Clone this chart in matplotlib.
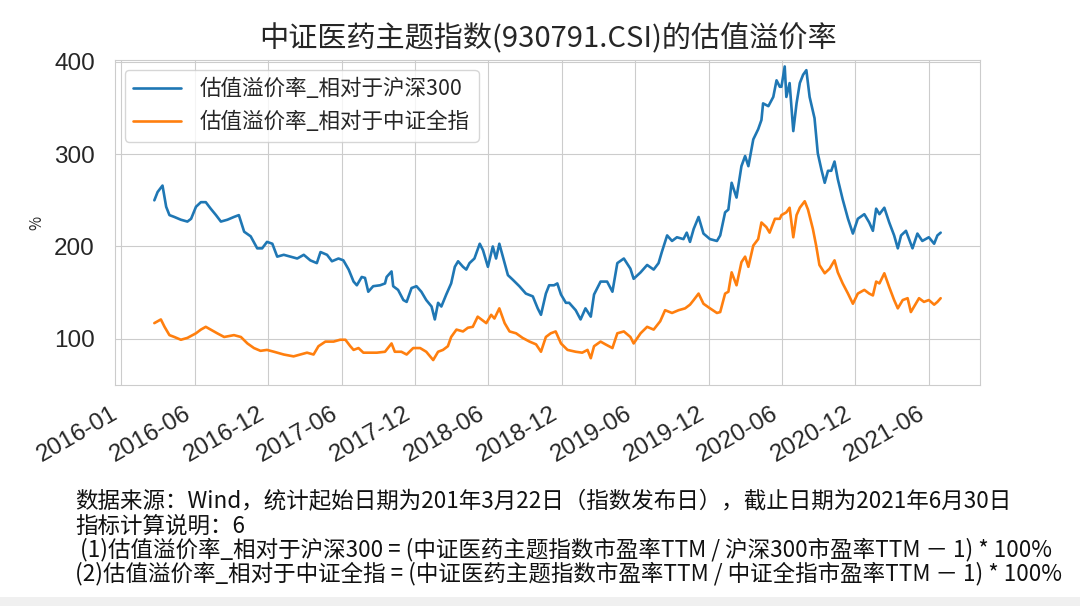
import matplotlib
matplotlib.use("Agg")
import matplotlib.pyplot as plt
import seaborn as sns
import pandas as pd
from matplotlib.patches import Rectangle

# 估值溢价率_相对于沪深300 (%)
hs300_dates = [
    "2016-03-22", "2016-03-30", "2016-04-11", "2016-04-20", "2016-04-28", "2016-05-10", "2016-05-26",
    "2016-06-11", "2016-06-20", "2016-07-02", "2016-07-14", "2016-07-26", "2016-08-07", "2016-08-20",
    "2016-09-01", "2016-09-17", "2016-10-03", "2016-10-15", "2016-10-28", "2016-11-13", "2016-11-29",
    "2016-12-11", "2016-12-23", "2017-01-05", "2017-01-17", "2017-02-02", "2017-02-18", "2017-03-07",
    "2017-03-23", "2017-04-08", "2017-04-24", "2017-05-03", "2017-05-19", "2017-05-31", "2017-06-16",
    "2017-06-28", "2017-07-11", "2017-07-23", "2017-07-31", "2017-08-12", "2017-08-20", "2017-08-28",
    "2017-09-09", "2017-09-26", "2017-10-08", "2017-10-12", "2017-10-24", "2017-10-28", "2017-11-09",
    "2017-11-22", "2017-11-30", "2017-12-12", "2017-12-24", "2018-01-05", "2018-01-17", "2018-01-30",
    "2018-02-07", "2018-02-15", "2018-02-23", "2018-03-07", "2018-03-19", "2018-03-28", "2018-04-05",
    "2018-04-17", "2018-04-25", "2018-05-03", "2018-05-15", "2018-05-28", "2018-06-05", "2018-06-17",
    "2018-06-29", "2018-07-07", "2018-07-15", "2018-07-28", "2018-08-05", "2018-08-17", "2018-09-02",
    "2018-09-18", "2018-10-05", "2018-10-17", "2018-10-25", "2018-11-06", "2018-11-14", "2018-11-26",
    "2018-12-04", "2018-12-13", "2018-12-25", "2019-01-02", "2019-01-18", "2019-01-30", "2019-02-11",
    "2019-02-24", "2019-03-04", "2019-03-20", "2019-04-05", "2019-04-18", "2019-04-30", "2019-05-16",
    "2019-06-01", "2019-06-09", "2019-06-26", "2019-07-12", "2019-07-28", "2019-08-09", "2019-08-17",
    "2019-08-30", "2019-09-11", "2019-09-23", "2019-10-09", "2019-10-17", "2019-10-25", "2019-11-03",
    "2019-11-15", "2019-11-27", "2019-12-13", "2019-12-30", "2020-01-07", "2020-01-19", "2020-01-27",
    "2020-02-04", "2020-02-16", "2020-02-28", "2020-03-08", "2020-03-16", "2020-03-28", "2020-04-09",
    "2020-04-17", "2020-04-21", "2020-05-04", "2020-05-16", "2020-05-24", "2020-06-01", "2020-06-05",
    "2020-06-13", "2020-06-17", "2020-06-25", "2020-07-04", "2020-07-12", "2020-07-20", "2020-07-28",
    "2020-08-05", "2020-08-13", "2020-08-25", "2020-09-02", "2020-09-11", "2020-09-19", "2020-09-27",
    "2020-10-05", "2020-10-13", "2020-10-21", "2020-11-02", "2020-11-15", "2020-11-27", "2020-12-09",
    "2020-12-25", "2021-01-06", "2021-01-15", "2021-01-23", "2021-01-31", "2021-02-12", "2021-02-24",
    "2021-03-08", "2021-03-17", "2021-03-25", "2021-04-06", "2021-04-22", "2021-05-04", "2021-05-16",
    "2021-06-01", "2021-06-14", "2021-06-22", "2021-06-30",
]
hs300_premium = [
    250, 259, 266, 243, 234, 232, 229,
    227, 230, 243, 248, 248, 241, 234,
    227, 229, 232, 234, 216, 211, 198,
    198, 205, 203, 189, 191, 189, 187,
    191, 185, 182, 194, 191, 184, 187,
    185, 175, 162, 158, 167, 166, 151,
    157, 158, 160, 167, 173, 157, 153,
    142, 140, 155, 157, 151, 142, 135,
    121, 139, 135, 148, 160, 178, 184,
    178, 175, 182, 187, 203, 196, 178,
    200, 187, 203, 182, 169, 164, 157,
    149, 146, 133, 126, 149, 158, 158,
    160, 148, 139, 139, 131, 121, 133,
    124, 148, 162, 162, 151, 182, 187,
    176, 165, 172, 180, 175, 182, 194,
    212, 206, 210, 208, 215, 205, 219,
    232, 214, 208, 206, 212, 237, 240,
    269, 253, 287, 298, 287, 316, 327,
    337, 355, 352, 362, 380, 373, 373,
    395, 362, 377, 325, 355, 377, 386,
    391, 362, 339, 301, 283, 269, 282,
    282, 292, 273, 251, 230, 214, 230,
    235, 226, 217, 241, 235, 242, 226,
    212, 198, 212, 217, 198, 214, 206,
    210, 203, 212, 215,
]

# 估值溢价率_相对于中证全指
csi_all_dates = [
    "2016-03-22", "2016-04-07", "2016-04-16", "2016-04-28", "2016-05-10", "2016-05-26", "2016-06-11",
    "2016-07-02", "2016-07-14", "2016-07-26", "2016-08-07", "2016-08-23", "2016-09-09", "2016-10-03",
    "2016-10-20", "2016-11-05", "2016-11-21", "2016-12-07", "2016-12-23", "2017-01-09", "2017-02-02",
    "2017-02-26", "2017-03-15", "2017-03-31", "2017-04-16", "2017-04-28", "2017-05-15", "2017-06-04",
    "2017-06-20", "2017-07-03", "2017-07-15", "2017-07-23", "2017-08-04", "2017-08-16", "2017-09-01",
    "2017-09-18", "2017-10-08", "2017-10-24", "2017-11-01", "2017-11-17", "2017-11-30", "2017-12-16",
    "2018-01-02", "2018-01-17", "2018-02-03", "2018-02-15", "2018-02-27", "2018-03-11", "2018-03-19",
    "2018-04-01", "2018-04-17", "2018-04-29", "2018-05-11", "2018-05-23", "2018-06-01", "2018-06-13",
    "2018-06-25", "2018-07-03", "2018-07-15", "2018-07-28", "2018-08-09", "2018-08-25", "2018-09-10",
    "2018-09-27", "2018-10-13", "2018-10-25", "2018-11-06", "2018-11-18", "2018-11-30", "2018-12-13",
    "2018-12-29", "2019-01-18", "2019-02-03", "2019-02-16", "2019-02-24", "2019-03-04", "2019-03-20",
    "2019-04-01", "2019-04-18", "2019-04-30", "2019-05-16", "2019-06-01", "2019-06-09", "2019-06-26",
    "2019-07-12", "2019-07-28", "2019-08-13", "2019-08-25", "2019-09-11", "2019-09-27", "2019-10-13",
    "2019-10-25", "2019-11-03", "2019-11-15", "2019-11-27", "2019-12-13", "2019-12-30", "2020-01-07",
    "2020-01-19", "2020-01-27", "2020-02-04", "2020-02-16", "2020-02-28", "2020-03-08", "2020-03-16",
    "2020-03-28", "2020-04-09", "2020-04-17", "2020-04-29", "2020-05-07", "2020-05-20", "2020-06-01",
    "2020-06-05", "2020-06-17", "2020-06-25", "2020-07-04", "2020-07-12", "2020-07-20", "2020-08-01",
    "2020-08-09", "2020-08-21", "2020-08-29", "2020-09-06", "2020-09-19", "2020-10-01", "2020-10-13",
    "2020-10-21", "2020-11-02", "2020-11-15", "2020-11-27", "2020-12-09", "2020-12-25", "2021-01-06",
    "2021-01-15", "2021-01-23", "2021-01-31", "2021-02-12", "2021-02-24", "2021-03-08", "2021-03-17",
    "2021-03-29", "2021-04-10", "2021-04-18", "2021-04-26", "2021-05-08", "2021-05-20", "2021-06-01",
    "2021-06-14", "2021-06-22", "2021-06-30",
]
csi_all_premium = [
    117, 121, 113, 104, 102, 99, 101,
    106, 110, 113, 110, 106, 102, 104,
    102, 95, 90, 87, 88, 86, 83,
    81, 83, 85, 83, 92, 97, 97,
    99, 99, 92, 88, 90, 85, 85,
    85, 86, 95, 86, 86, 83, 90,
    90, 86, 77, 86, 88, 92, 102,
    110, 108, 112, 113, 124, 121, 117,
    126, 122, 133, 117, 108, 106, 101,
    97, 94, 86, 102, 106, 108, 95,
    88, 86, 85, 88, 79, 92, 97,
    94, 90, 106, 108, 102, 95, 106,
    113, 110, 119, 131, 128, 131, 133,
    137, 142, 149, 138, 133, 128, 129,
    149, 151, 172, 158, 183, 189, 178,
    201, 208, 226, 221, 215, 230, 230,
    234, 237, 242, 210, 234, 242, 249,
    240, 219, 201, 180, 171, 176, 185,
    172, 160, 149, 138, 149, 153, 149,
    147, 162, 160, 171, 156, 142, 133,
    142, 144, 129, 135, 144, 140, 142,
    137, 140, 144,
]

tick_labels = ["2016-01", "2016-06", "2016-12", "2017-06", "2017-12", "2018-06",
               "2018-12", "2019-06", "2019-12", "2020-06", "2020-12", "2021-06"]

title = "中证医药主题指数(930791.CSI)的估值溢价率"
label_hs300 = "估值溢价率_相对于沪深300"
label_csi_all = "估值溢价率_相对于中证全指"
notes = [
    "数据来源：Wind，统计起始日期为201年3月22日（指数发布日），截止日期为2021年6月30日",
    "指标计算说明：6",
    " (1)估值溢价率_相对于沪深300 = (中证医药主题指数市盈率TTM / 沪深300市盈率TTM － 1) * 100%",
    "(2)估值溢价率_相对于中证全指 = (中证医药主题指数市盈率TTM / 中证全指市盈率TTM － 1) * 100%",
]

sns.set_style("whitegrid")
plt.rcParams["font.family"] = ["Noto Sans CJK SC", "DejaVu Sans"]
plt.rcParams["axes.unicode_minus"] = False

fig = plt.figure(figsize=(10.8, 6.06), dpi=100)
ax = fig.add_axes([0.1065, 0.3647, 0.8009, 0.5363])

ax.plot(pd.to_datetime(hs300_dates), hs300_premium, color="#1f77b4", lw=1.9, label=label_hs300)
ax.plot(pd.to_datetime(csi_all_dates), csi_all_premium, color="#ff7f0e", lw=1.9, label=label_csi_all)

ax.set_ylim(50, 402)
ax.set_yticks([100, 200, 300, 400])
ax.set_yticklabels(["100", "200", "300", "400"], fontsize=17.5, family="Liberation Sans", color="#262626")

# 12 evenly spaced ticks between 2016-01-01 and 2021-06-01
xticks = pd.date_range("2016-01-01", "2021-06-01", periods=12)
ax.set_xticks(xticks)
ax.set_xticklabels(tick_labels, rotation=30, ha="right", fontsize=17.5,
                   family="Liberation Sans", color="#262626")
ax.tick_params(axis="y", pad=11)
ax.tick_params(axis="x", pad=9)

ax.set_ylabel("%", fontsize=11, labelpad=6, color="#262626")
ax.set_title(title, fontsize=21, pad=9, color="#262626")

ax.legend(loc="upper left", fontsize=15.5, handlelength=2.2, handletextpad=0.9,
          borderaxespad=0.45, labelspacing=0.5, frameon=True)

ys = [502, 526, 550, 574]
for line, y in zip(notes, ys):
    fig.text(75 / 1080, 1 - y / 606, line, fontsize=16.2, va="center", ha="left", color="#111111")

# light grey strip at the bottom of the page
fig.patches.append(Rectangle((0, 0), 1, 9 / 606, transform=fig.transFigure,
                             facecolor="#f0f0f0", edgecolor="none", zorder=0))

fig.savefig("out.png", dpi=100)
